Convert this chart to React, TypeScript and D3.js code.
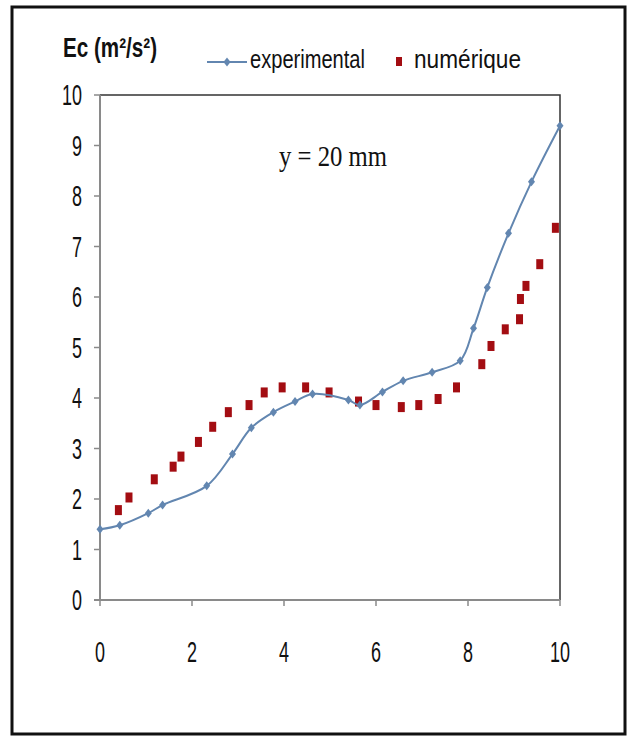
import React, { useRef, useEffect } from "react";
import * as d3 from "d3";

const expX = [0, 0.43, 1.05, 1.36, 2.32, 2.88, 3.29, 3.77, 4.24, 4.62, 5.4, 5.65, 6.14, 6.59, 7.22, 7.83, 8.12, 8.42, 8.88, 9.38, 10];
const expY = [1.4, 1.48, 1.72, 1.88, 2.26, 2.89, 3.41, 3.72, 3.93, 4.08, 3.96, 3.86, 4.12, 4.34, 4.51, 4.74, 5.38, 6.19, 7.26, 8.28, 9.39];

const numX = [0.4, 0.63, 1.18, 1.59, 1.76, 2.14, 2.45, 2.79, 3.24, 3.57, 3.96, 4.47, 4.98, 5.62, 6.0, 6.55, 6.93, 7.35, 7.75, 8.3, 8.5, 8.81, 9.12, 9.14, 9.26, 9.56, 9.9];
const numY = [1.78, 2.03, 2.39, 2.64, 2.84, 3.13, 3.43, 3.72, 3.86, 4.11, 4.21, 4.21, 4.11, 3.93, 3.86, 3.82, 3.86, 3.98, 4.21, 4.67, 5.03, 5.36, 5.56, 5.96, 6.22, 6.65, 7.37];

const xTicks = [0, 2, 4, 6, 8, 10];
const yTicks = [0, 1, 2, 3, 4, 5, 6, 7, 8, 9, 10];

const App = () => {
  const ref = useRef<SVGSVGElement>(null);

  useEffect(() => {
    const svg = d3.select(ref.current);
    svg.selectAll("*").remove();

    const width = 631;
    const height = 737;
    const margin = { top: 95, right: 71, bottom: 137, left: 100 };
    const blue = "#6286b0";
    const red = "#a30d12";
    const sans = "Liberation Sans, Arial, sans-serif";

    svg.attr("width", width).attr("height", height);

    // outer frame
    svg
      .append("rect")
      .attr("x", 12)
      .attr("y", 7)
      .attr("width", 613)
      .attr("height", 727)
      .attr("fill", "white")
      .attr("stroke", "#111")
      .attr("stroke-width", 3);

    const x = d3.scaleLinear().domain([0, 10]).range([margin.left, width - margin.right]);
    const y = d3.scaleLinear().domain([0, 10]).range([height - margin.bottom, margin.top]);

    // top and right border of plot area
    svg
      .append("path")
      .attr("d", `M${x(0)},${y(10)}H${x(10)}V${y(0)}`)
      .attr("fill", "none")
      .attr("stroke", "#333")
      .attr("stroke-width", 1.5);

    // axes
    const axisColor = "#8a8a8a";
    svg
      .append("line")
      .attr("x1", x(0))
      .attr("x2", x(0))
      .attr("y1", y(0))
      .attr("y2", y(10))
      .attr("stroke", axisColor)
      .attr("stroke-width", 2);
    svg
      .append("line")
      .attr("x1", x(0) - 6)
      .attr("x2", x(10))
      .attr("y1", y(0))
      .attr("y2", y(0))
      .attr("stroke", axisColor)
      .attr("stroke-width", 2);

    svg
      .append("g")
      .selectAll("line")
      .data(yTicks)
      .join("line")
      .attr("x1", x(0) - 6)
      .attr("x2", x(0))
      .attr("y1", (d) => y(d))
      .attr("y2", (d) => y(d))
      .attr("stroke", axisColor)
      .attr("stroke-width", 1.5);

    svg
      .append("g")
      .selectAll("line")
      .data(xTicks)
      .join("line")
      .attr("x1", (d) => x(d))
      .attr("x2", (d) => x(d))
      .attr("y1", y(0))
      .attr("y2", y(0) + 6)
      .attr("stroke", axisColor)
      .attr("stroke-width", 1.5);

    // tick labels (narrow, tall glyphs like the picture)
    svg
      .append("g")
      .selectAll("text")
      .data(yTicks)
      .join("text")
      .attr("transform", (d) => `translate(82,${y(d) + 10}) scale(0.62,1)`)
      .attr("text-anchor", "end")
      .attr("font-family", sans)
      .attr("font-size", 29)
      .attr("fill", "#111")
      .text((d) => d);

    svg
      .append("g")
      .selectAll("text")
      .data(xTicks)
      .join("text")
      .attr("transform", (d) => `translate(${x(d)},662) scale(0.6,1)`)
      .attr("text-anchor", "middle")
      .attr("font-family", sans)
      .attr("font-size", 30)
      .attr("fill", "#111")
      .text((d) => d);

    // numerical squares
    svg
      .append("g")
      .selectAll("rect")
      .data(numX.map((v, i) => [v, numY[i]]))
      .join("rect")
      .attr("x", (d) => x(d[0]) - 3.5)
      .attr("y", (d) => y(d[1]) - 5)
      .attr("width", 7)
      .attr("height", 10)
      .attr("fill", red);

    // experimental line
    const expData = expX.map((v, i) => [v, expY[i]]);
    const line = d3
      .line<number[]>()
      .x((d) => x(d[0]))
      .y((d) => y(d[1]))
      .curve(d3.curveCatmullRom.alpha(0.5));

    svg
      .append("path")
      .datum(expData)
      .attr("d", line)
      .attr("fill", "none")
      .attr("stroke", blue)
      .attr("stroke-width", 2);

    const diamond = (cx: number, cy: number) =>
      `M${cx},${cy - 4.5}L${cx + 3.5},${cy}L${cx},${cy + 4.5}L${cx - 3.5},${cy}Z`;

    svg
      .append("g")
      .selectAll("path")
      .data(expData)
      .join("path")
      .attr("d", (d) => diamond(x(d[0]), y(d[1])))
      .attr("fill", blue);

    // y unit label
    svg
      .append("text")
      .attr("x", 63)
      .attr("y", 57)
      .attr("font-family", sans)
      .attr("font-weight", "bold")
      .attr("font-size", 28)
      .attr("textLength", 94)
      .attr("lengthAdjust", "spacingAndGlyphs")
      .attr("fill", "#111")
      .text("Ec (m²/s²)");

    // legend
    svg
      .append("line")
      .attr("x1", 207)
      .attr("x2", 247)
      .attr("y1", 62)
      .attr("y2", 62)
      .attr("stroke", blue)
      .attr("stroke-width", 2);
    svg.append("path").attr("d", diamond(227, 62)).attr("fill", blue);
    svg
      .append("text")
      .attr("x", 250)
      .attr("y", 68)
      .attr("font-family", sans)
      .attr("font-size", 25)
      .attr("textLength", 115)
      .attr("lengthAdjust", "spacingAndGlyphs")
      .attr("fill", "#111")
      .text("experimental");

    svg
      .append("rect")
      .attr("x", 396)
      .attr("y", 57)
      .attr("width", 6)
      .attr("height", 9)
      .attr("fill", red);
    svg
      .append("text")
      .attr("x", 414)
      .attr("y", 68)
      .attr("font-family", sans)
      .attr("font-size", 25)
      .attr("textLength", 107)
      .attr("lengthAdjust", "spacingAndGlyphs")
      .attr("fill", "#111")
      .text("numérique");

    // annotation
    svg
      .append("text")
      .attr("x", 279)
      .attr("y", 166)
      .attr("font-family", "Liberation Serif, Times New Roman, serif")
      .attr("font-size", 30)
      .attr("textLength", 108)
      .attr("lengthAdjust", "spacingAndGlyphs")
      .attr("fill", "#111")
      .text("y = 20 mm");
  }, []);

  return <svg ref={ref} style={{ position: "absolute", left: 0, top: 0 }}></svg>;
};

export default App;
